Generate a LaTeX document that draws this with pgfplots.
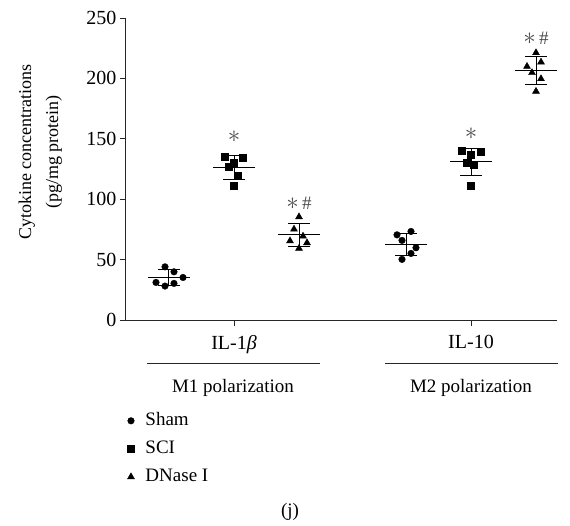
\documentclass[border=0pt]{standalone}
\usepackage{fontspec}
\setmainfont{Liberation Serif}
\usepackage{pgfplots}
\usepackage{pgfplotstable}
\pgfplotsset{compat=1.18}

% x is in pixel-like units from the y axis; groups at 108 (IL-1b) and 345 (IL-10)
\pgfplotstableread{
x y
39 44.0
48 39.9
57 35.2
30 31.1
39 28.1
48 30.3
271 70.5
285 73.3
276 65.9
290 59.8
285 55.1
276 50.2
}\sham
\pgfplotstableread{
x y
99 135.0
117 134.1
108 130.3
103 127.3
112 119.8
108 111.0
336 139.9
355 139.1
345 136.6
341 130.0
348 128.3
345 111.0
}\sci
\pgfplotstableread{
x y
173 85.4
168 75.2
177 69.4
164 65.5
181 63.9
173 59.3
410 221.2
415 213.5
401 209.9
406 204.7
415 199.7
410 189.3
}\dnase
\pgfplotstableread{
x m sd
43 35.1 6.6
108 126.2 10.0
173 70.5 9.4
280 62.5 8.7
345 130.8 11.0
410 206.6 11.4
}\means

\begin{document}
\begin{tikzpicture}
\begin{axis}[
  scale only axis, width=431pt, height=302pt,
  xmin=0, xmax=431, ymin=0, ymax=250,
  axis x line*=bottom, axis y line*=left,
  axis line style={-, line width=1pt, black!85},
  tick align=outside, major tick length=6pt,
  tick style={line width=0.8pt, black!85},
  xtick={108,345}, xticklabels={IL-1\textit{β}, IL-10},
  ytick={0,50,100,150,200,250},
  /pgf/number format/assume math mode=true,
  tick label style={font=\fontsize{20}{24}\selectfont},
  xticklabel style={yshift=-6pt},
  ylabel={Cytokine concentrations\\(pg/mg protein)},
  ylabel style={font=\fontsize{18}{27}\selectfont, align=center,
    at={(axis description cs:-0.199,0.557)}, anchor=center, rotate=0},
  legend style={draw=none, fill=none, inner sep=0pt,
    at={(axis description cs:0.003,-0.305)}, anchor=north west,
    font=\fontsize{19}{23}\selectfont, row sep=11pt, column sep=11pt,
    nodes={inner sep=0pt, text height=13pt, text depth=4pt}},
  legend cell align=left,
  clip=false,
]
\addplot[only marks, mark=*, mark size=3.3pt, black] table {\sham};
\addlegendentry{Sham}
\addplot[only marks, mark=square*, mark size=3.5pt, black] table {\sci};
\addlegendentry{SCI}
\addplot[only marks, mark=triangle*, mark size=4pt, black] table {\dnase};
\addlegendentry{DNase I}
\addplot[only marks, mark=-, mark size=21pt, line width=1pt, black, forget plot,
  error bars/.cd, y dir=both, y explicit, error mark=|,
  error bar style={line width=1pt, black},
  error mark options={mark size=11pt, line width=1pt, black}]
  table[x=x, y=m, y error=sd] {\means};
\node[font=\fontsize{24}{28}\selectfont, text=black!70] at (axis cs:108,151.5) {$\ast$};
\node[font=\fontsize{24}{28}\selectfont, text=black!70] at (axis cs:173,96.7) {$\ast${\fontsize{19}{23}\selectfont\,\#}};
\node[font=\fontsize{24}{28}\selectfont, text=black!70] at (axis cs:345,154) {$\ast$};
\node[font=\fontsize{24}{28}\selectfont, text=black!70] at (axis cs:410,233) {$\ast${\fontsize{19}{23}\selectfont\,\#}};
\end{axis}
\draw[line width=1pt, black!85] (21pt,-43pt) -- (194pt,-43pt);
\draw[line width=1pt, black!85] (259pt,-43pt) -- (432pt,-43pt);
\node[font=\fontsize{19}{23}\selectfont] at (107pt,-68pt) {M1 polarization};
\node[font=\fontsize{19}{23}\selectfont] at (345pt,-68pt) {M2 polarization};
\node[font=\fontsize{19}{23}\selectfont] at (164pt,-192pt) {(j)};
\path[use as bounding box] (-126pt,-205pt) rectangle (444pt,320pt);
\end{tikzpicture}
\end{document}
